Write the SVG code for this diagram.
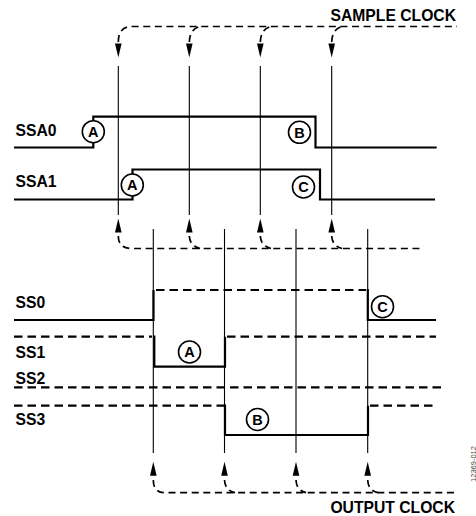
<svg xmlns="http://www.w3.org/2000/svg" width="476" height="516" viewBox="0 0 476 516">
<style>
.lbl{font-family:"Liberation Sans",Arial,sans-serif;font-weight:bold;font-size:15.7px;fill:#000}
.sig{fill:none;stroke:#000;stroke-width:2.2}
.dsig{fill:none;stroke:#000;stroke-width:2.2;stroke-dasharray:8.5 5}
.clk{fill:none;stroke:#000;stroke-width:1.1}
.dclk{fill:none;stroke:#000;stroke-width:1.7;stroke-dasharray:7 4.6}
.circ{fill:#fff;stroke:#000;stroke-width:1.6}
.ctx{font-family:"Liberation Sans",Arial,sans-serif;font-weight:bold;font-size:14.5px;fill:#000;text-anchor:middle}
.fig{font-family:"Liberation Sans",Arial,sans-serif;font-size:7.5px;fill:#444;text-anchor:middle}
</style>
<defs>
<path id="ad" d="M-3.3,-14 L3.3,-14 L0,0 Z" fill="#000"/>
<path id="au" d="M-3.3,14 L3.3,14 L0,0 Z" fill="#000"/>
<g id="cm"><circle r="11" class="circ"/></g>
</defs>

<g id="connectors">
<path class="dclk" d="M118.3,42 Q118.3,26.5 132,26.5 L457,26.5"/>
<path class="dclk" d="M189.3,42 Q189.8,29 200,26.5"/>
<path class="dclk" d="M260.3,42 Q260.8,29 271,26.5"/>
<path class="dclk" d="M331.7,42 Q332.2,29 342,26.5"/>
<use href="#ad" x="118.3" y="57.5"/>
<use href="#ad" x="189.3" y="57.5"/>
<use href="#ad" x="260.3" y="57.5"/>
<use href="#ad" x="331.7" y="57.5"/>
<path class="dclk" d="M118.3,236 Q118.3,248.5 132,248.5 L422,248.5"/>
<path class="dclk" d="M189.3,236 Q189.8,246 200,248.5"/>
<path class="dclk" d="M260.3,236 Q260.8,246 271,248.5"/>
<path class="dclk" d="M331.7,236 Q332.2,246 342,248.5"/>
<use href="#au" x="118.3" y="218.5"/>
<use href="#au" x="189.3" y="218.5"/>
<use href="#au" x="260.3" y="218.5"/>
<use href="#au" x="331.7" y="218.5"/>
<path class="clk" d="M118.3,66 V215 M189.3,66 V215 M260.3,66 V215 M331.7,66 V215"/>
<path class="clk" d="M153.3,229 V453 M224.5,229 V453 M296,229 V453 M367.7,229 V453"/>
<use href="#au" x="153.3" y="461.7"/>
<use href="#au" x="224.5" y="461.7"/>
<use href="#au" x="296" y="461.7"/>
<use href="#au" x="367.7" y="461.7"/>
<path class="dclk" d="M153.3,480 Q153.3,492.7 165,492.7 L457,492.7"/>
<path class="dclk" d="M224.5,480 Q225,490.5 235,492.7"/>
<path class="dclk" d="M296,480 Q296.5,490.5 306,492.7"/>
<path class="dclk" d="M367.7,480 Q368.2,490.5 378,492.7"/>
</g>

<g id="sample-clock-label"><text class="lbl" x="456" y="20.5" text-anchor="end">SAMPLE CLOCK</text></g>
<g id="output-clock-label"><text class="lbl" x="455" y="512.5" text-anchor="end">OUTPUT CLOCK</text></g>

<g id="SSA0">
<text class="lbl" x="15.5" y="135.5">SSA0</text>
<path class="sig" d="M14,147.5 H93.3 V116.7 H315.5 V147.5 H436.7"/>
<use href="#cm" x="93.3" y="131.7"/><text class="ctx" x="93.3" y="136.9">A</text>
<use href="#cm" x="299.5" y="132.3"/><text class="ctx" x="299.5" y="137.5">B</text>
</g>

<g id="SSA1">
<text class="lbl" x="15.5" y="187">SSA1</text>
<path class="sig" d="M14,199.5 H132.5 V169.5 H320 V199.5 H435"/>
<use href="#cm" x="132.3" y="185"/><text class="ctx" x="132.3" y="190.2">A</text>
<use href="#cm" x="303.5" y="187"/><text class="ctx" x="303.5" y="192.2">C</text>
</g>

<g id="SS0">
<text class="lbl" x="15.5" y="307.5">SS0</text>
<path class="sig" d="M14,320 H153.5 V290"/>
<path class="dsig" d="M156,290 H366"/>
<path class="sig" d="M367.8,289 V320 H436"/>
<use href="#cm" x="382.5" y="306.7"/><text class="ctx" x="382.5" y="311.9">C</text>
</g>

<g id="SS1">
<text class="lbl" x="15.5" y="357.5">SS1</text>
<path class="dsig" d="M14,336.7 H152"/>
<path class="sig" d="M154.3,335.6 V366.7 H225 V336.7"/>
<path class="dsig" d="M227,336.7 H436"/>
<use href="#cm" x="189.5" y="352"/><text class="ctx" x="189.5" y="357.2">A</text>
</g>

<g id="SS2">
<text class="lbl" x="15.5" y="383.5">SS2</text>
<path class="dsig" d="M14,387.3 H443"/>
</g>

<g id="SS3">
<text class="lbl" x="15.5" y="424.5">SS3</text>
<path class="dsig" d="M14,405.7 H224"/>
<path class="sig" d="M225,404.6 V435 H368 V405.7"/>
<path class="dsig" d="M370,405.7 H436"/>
<use href="#cm" x="257.5" y="419.5"/><text class="ctx" x="257.5" y="424.7">B</text>
</g>

<g id="figure-id"><text class="fig" transform="translate(475.5,464) rotate(-90)">12369-012</text></g>
</svg>
